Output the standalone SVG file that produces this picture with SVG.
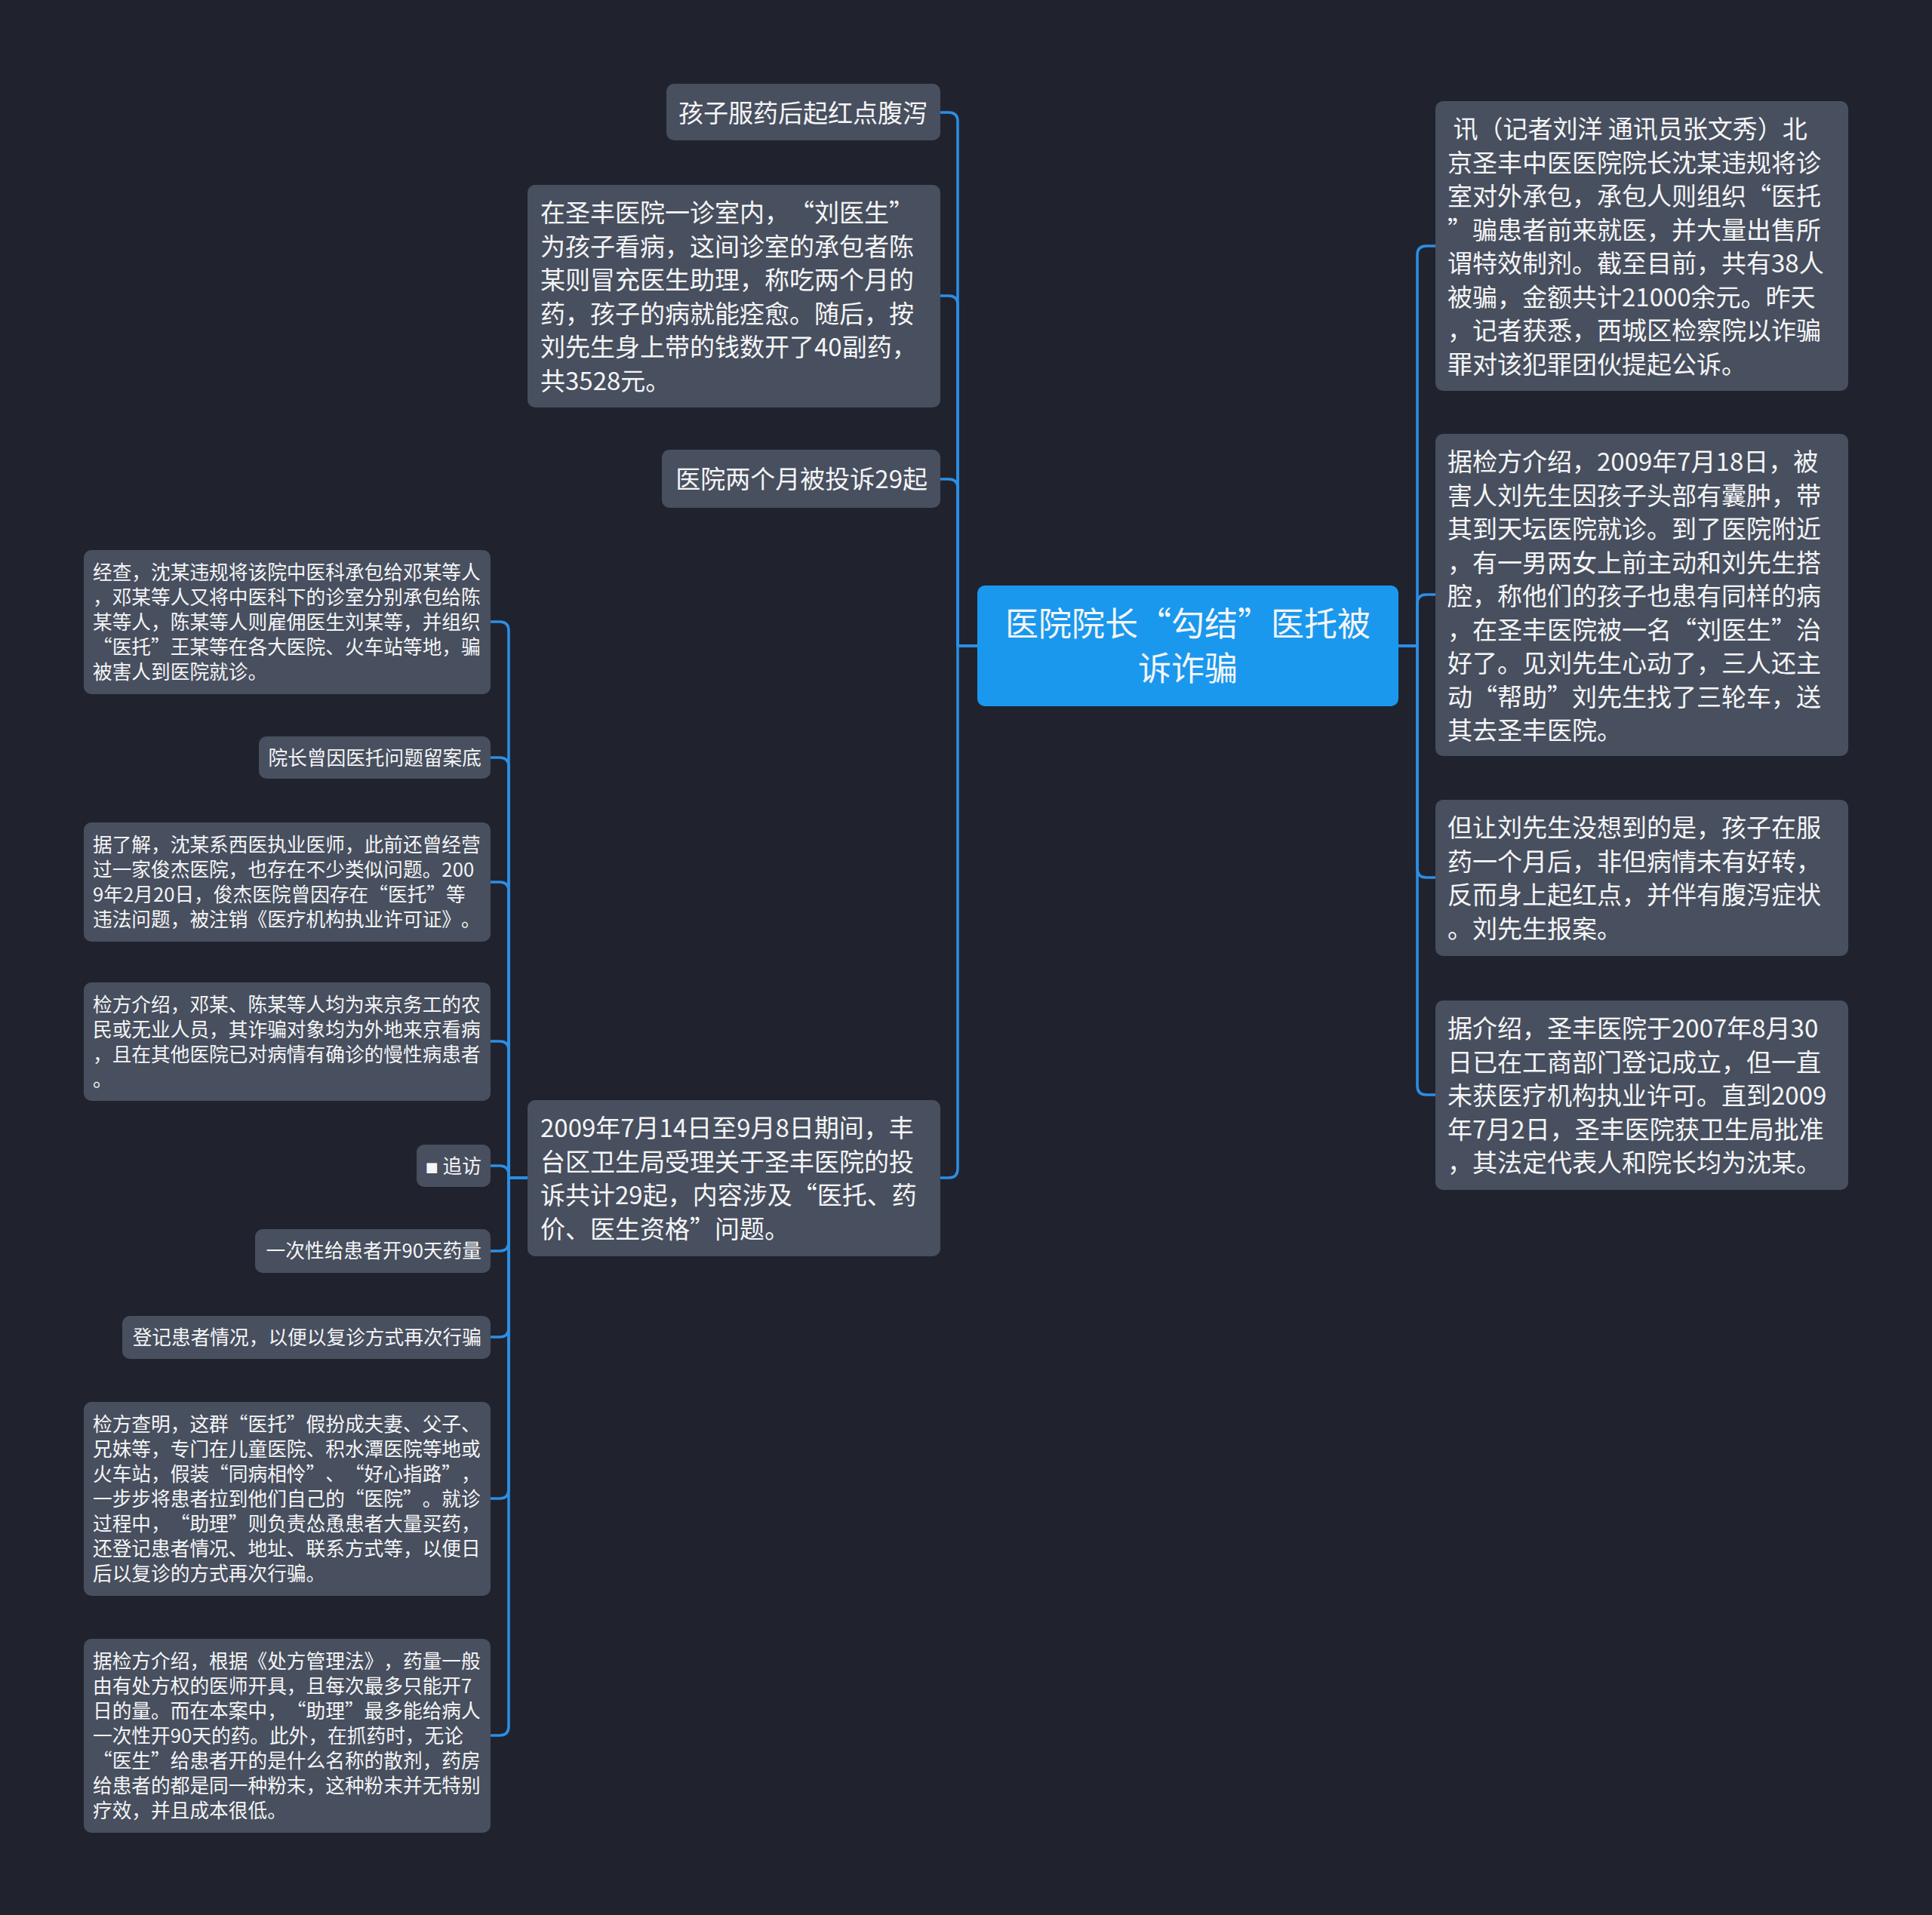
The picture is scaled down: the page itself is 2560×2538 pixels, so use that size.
<svg xmlns="http://www.w3.org/2000/svg" width="2560" height="2538" viewBox="0 0 2560 2538">
<style>
.bg{fill:#20232e}
.n{fill:#484f5e}
.root{fill:#1a98ee}
.t{font-family:"Noto Sans CJK SC","Microsoft YaHei",sans-serif;fill:#f4f5f7;font-feature-settings:"chws" 0,"halt" 0;text-spacing-trim:space-all}
.f33{font-size:33px}
.f26{font-size:25.7px}
.f44{font-size:44px}
.c{fill:none;stroke:#2b8fe6;stroke-width:3.5;stroke-linejoin:round}
</style>
<rect class="bg" x="0" y="0" width="2560" height="2538"/>
<g id="connectors">
<path class="c" d="M1295,856 H1269 V161 Q1269,149 1257,149 H1246"/>
<path class="c" d="M1295,856 H1269 V404 Q1269,392 1257,392 H1246"/>
<path class="c" d="M1295,856 H1269 V647 Q1269,635 1257,635 H1246"/>
<path class="c" d="M1295,856 H1269 V1549 Q1269,1561 1257,1561 H1246"/>
<path class="c" d="M1853,856 H1878 V338 Q1878,326 1890,326 H1902"/>
<path class="c" d="M1853,856 H1878 V800 Q1878,788 1890,788 H1902"/>
<path class="c" d="M1853,856 H1878 V1151 Q1878,1163 1890,1163 H1902"/>
<path class="c" d="M1853,856 H1878 V1439 Q1878,1451 1890,1451 H1902"/>
<path class="c" d="M699,1561 H674 V836 Q674,824 662,824 H650"/>
<path class="c" d="M699,1561 H674 V1016 Q674,1004 662,1004 H650"/>
<path class="c" d="M699,1561 H674 V1181 Q674,1169 662,1169 H650"/>
<path class="c" d="M699,1561 H674 V1392 Q674,1380 662,1380 H650"/>
<path class="c" d="M699,1561 H674 V1557 Q674,1545 662,1545 H650"/>
<path class="c" d="M699,1561 H674 V1646 Q674,1658 662,1658 H650"/>
<path class="c" d="M699,1561 H674 V1760 Q674,1772 662,1772 H650"/>
<path class="c" d="M699,1561 H674 V1974 Q674,1986 662,1986 H650"/>
<path class="c" d="M699,1561 H674 V2288 Q674,2300 662,2300 H650"/>
</g>
<g id="root">
<rect class="root" x="1295" y="776" width="558" height="160" rx="10"/>
<text class="t f44" text-anchor="middle" x="1574" y="843">医院院长“勾结”医托被</text>
<text class="t f44" text-anchor="middle" x="1574" y="902">诉诈骗</text>
</g>
<g id="nodeA">
<rect class="n" x="883" y="111" width="363" height="75" rx="10"/>
<text class="t f33" text-anchor="end" x="1229" y="162">孩子服药后起红点腹泻</text>
</g>
<g id="nodeB">
<rect class="n" x="699" y="245" width="547" height="295" rx="10"/>
<text class="t f33" x="716" y="294">在圣丰医院一诊室内，“刘医生”</text>
<text class="t f33" x="716" y="338.5">为孩子看病，这间诊室的承包者陈</text>
<text class="t f33" x="716" y="383">某则冒充医生助理，称吃两个月的</text>
<text class="t f33" x="716" y="427.5">药，孩子的病就能痊愈。随后，按</text>
<text class="t f33" x="716" y="472">刘先生身上带的钱数开了40副药，</text>
<text class="t f33" x="716" y="516.5">共3528元。</text>
</g>
<g id="nodeC">
<rect class="n" x="877" y="596" width="369" height="77" rx="10"/>
<text class="t f33" text-anchor="end" x="1229" y="647">医院两个月被投诉29起</text>
</g>
<g id="nodeD">
<rect class="n" x="699" y="1458" width="547" height="207" rx="10"/>
<text class="t f33" x="716" y="1507">2009年7月14日至9月8日期间，丰</text>
<text class="t f33" x="716" y="1551.5">台区卫生局受理关于圣丰医院的投</text>
<text class="t f33" x="716" y="1596">诉共计29起，内容涉及“医托、药</text>
<text class="t f33" x="716" y="1640.5">价、医生资格”问题。</text>
</g>
<g id="nodeR1">
<rect class="n" x="1902" y="134" width="547" height="384" rx="10"/>
<text class="t f33" x="1918" y="183" xml:space="preserve"> 讯（记者刘洋 通讯员张文秀）北</text>
<text class="t f33" x="1918" y="227.5">京圣丰中医医院院长沈某违规将诊</text>
<text class="t f33" x="1918" y="272">室对外承包，承包人则组织“医托</text>
<text class="t f33" x="1918" y="316.5">”骗患者前来就医，并大量出售所</text>
<text class="t f33" x="1918" y="361">谓特效制剂。截至目前，共有38人</text>
<text class="t f33" x="1918" y="405.5">被骗，金额共计21000余元。昨天</text>
<text class="t f33" x="1918" y="450">，记者获悉，西城区检察院以诈骗</text>
<text class="t f33" x="1918" y="494.5">罪对该犯罪团伙提起公诉。</text>
</g>
<g id="nodeR2">
<rect class="n" x="1902" y="575" width="547" height="427" rx="10"/>
<text class="t f33" x="1918" y="624">据检方介绍，2009年7月18日，被</text>
<text class="t f33" x="1918" y="668.5">害人刘先生因孩子头部有囊肿，带</text>
<text class="t f33" x="1918" y="713">其到天坛医院就诊。到了医院附近</text>
<text class="t f33" x="1918" y="757.5">，有一男两女上前主动和刘先生搭</text>
<text class="t f33" x="1918" y="802">腔，称他们的孩子也患有同样的病</text>
<text class="t f33" x="1918" y="846.5">，在圣丰医院被一名“刘医生”治</text>
<text class="t f33" x="1918" y="891">好了。见刘先生心动了，三人还主</text>
<text class="t f33" x="1918" y="935.5">动“帮助”刘先生找了三轮车，送</text>
<text class="t f33" x="1918" y="980">其去圣丰医院。</text>
</g>
<g id="nodeR3">
<rect class="n" x="1902" y="1060" width="547" height="207" rx="10"/>
<text class="t f33" x="1918" y="1109">但让刘先生没想到的是，孩子在服</text>
<text class="t f33" x="1918" y="1153.5">药一个月后，非但病情未有好转，</text>
<text class="t f33" x="1918" y="1198">反而身上起红点，并伴有腹泻症状</text>
<text class="t f33" x="1918" y="1242.5">。刘先生报案。</text>
</g>
<g id="nodeR4">
<rect class="n" x="1902" y="1326" width="547" height="251" rx="10"/>
<text class="t f33" x="1918" y="1375">据介绍，圣丰医院于2007年8月30</text>
<text class="t f33" x="1918" y="1419.5">日已在工商部门登记成立，但一直</text>
<text class="t f33" x="1918" y="1464">未获医疗机构执业许可。直到2009</text>
<text class="t f33" x="1918" y="1508.5">年7月2日，圣丰医院获卫生局批准</text>
<text class="t f33" x="1918" y="1553">，其法定代表人和院长均为沈某。</text>
</g>
<g id="nodeL1">
<rect class="n" x="111" y="729" width="539" height="191" rx="10"/>
<text class="t f26" x="123" y="768">经查，沈某违规将该院中医科承包给邓某等人</text>
<text class="t f26" x="123" y="801">，邓某等人又将中医科下的诊室分别承包给陈</text>
<text class="t f26" x="123" y="834">某等人，陈某等人则雇佣医生刘某等，并组织</text>
<text class="t f26" x="123" y="867">“医托”王某等在各大医院、火车站等地，骗</text>
<text class="t f26" x="123" y="900">被害人到医院就诊。</text>
</g>
<g id="nodeL2">
<rect class="n" x="343" y="976" width="307" height="56" rx="10"/>
<text class="t f26" text-anchor="end" x="638" y="1014">院长曾因医托问题留案底</text>
</g>
<g id="nodeL3">
<rect class="n" x="111" y="1090" width="539" height="158" rx="10"/>
<text class="t f26" x="123" y="1129">据了解，沈某系西医执业医师，此前还曾经营</text>
<text class="t f26" x="123" y="1162">过一家俊杰医院，也存在不少类似问题。200</text>
<text class="t f26" x="123" y="1195">9年2月20日，俊杰医院曾因存在“医托”等</text>
<text class="t f26" x="123" y="1228">违法问题，被注销《医疗机构执业许可证》。</text>
</g>
<g id="nodeL4">
<rect class="n" x="111" y="1302" width="539" height="157" rx="10"/>
<text class="t f26" x="123" y="1341">检方介绍，邓某、陈某等人均为来京务工的农</text>
<text class="t f26" x="123" y="1374">民或无业人员，其诈骗对象均为外地来京看病</text>
<text class="t f26" x="123" y="1407">，且在其他医院已对病情有确诊的慢性病患者</text>
<text class="t f26" x="123" y="1440">。</text>
</g>
<g id="nodeL5">
<rect class="n" x="552" y="1517" width="98" height="56" rx="10"/>
<text class="t f26" text-anchor="end" x="638" y="1555"><tspan font-size="17">■</tspan> 追访</text>
</g>
<g id="nodeL6">
<rect class="n" x="338" y="1629" width="312" height="58" rx="10"/>
<text class="t f26" text-anchor="end" x="638" y="1667">一次性给患者开90天药量</text>
</g>
<g id="nodeL7">
<rect class="n" x="162" y="1744" width="488" height="57" rx="10"/>
<text class="t f26" text-anchor="end" x="638" y="1782">登记患者情况，以便以复诊方式再次行骗</text>
</g>
<g id="nodeL8">
<rect class="n" x="111" y="1858" width="539" height="257" rx="10"/>
<text class="t f26" x="123" y="1897">检方查明，这群“医托”假扮成夫妻、父子、</text>
<text class="t f26" x="123" y="1930">兄妹等，专门在儿童医院、积水潭医院等地或</text>
<text class="t f26" x="123" y="1963">火车站，假装“同病相怜”、“好心指路”，</text>
<text class="t f26" x="123" y="1996">一步步将患者拉到他们自己的“医院”。就诊</text>
<text class="t f26" x="123" y="2029">过程中，“助理”则负责怂恿患者大量买药，</text>
<text class="t f26" x="123" y="2062">还登记患者情况、地址、联系方式等，以便日</text>
<text class="t f26" x="123" y="2095">后以复诊的方式再次行骗。</text>
</g>
<g id="nodeL9">
<rect class="n" x="111" y="2172" width="539" height="257" rx="10"/>
<text class="t f26" x="123" y="2211">据检方介绍，根据《处方管理法》，药量一般</text>
<text class="t f26" x="123" y="2244">由有处方权的医师开具，且每次最多只能开7</text>
<text class="t f26" x="123" y="2277">日的量。而在本案中，“助理”最多能给病人</text>
<text class="t f26" x="123" y="2310">一次性开90天的药。此外，在抓药时，无论</text>
<text class="t f26" x="123" y="2343">“医生”给患者开的是什么名称的散剂，药房</text>
<text class="t f26" x="123" y="2376">给患者的都是同一种粉末，这种粉末并无特别</text>
<text class="t f26" x="123" y="2409">疗效，并且成本很低。</text>
</g>
</svg>
